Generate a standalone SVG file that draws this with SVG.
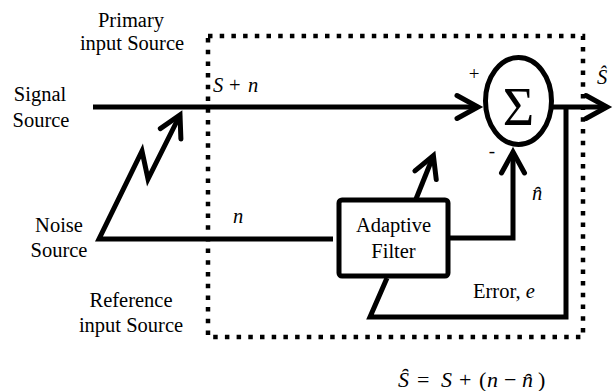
<svg xmlns="http://www.w3.org/2000/svg" width="613" height="391" viewBox="0 0 613 391">
<style>
  .t { font-family: "Liberation Serif", "Times New Roman", serif; font-size: 20.5px; fill: #000; }
  .m { font-family: "Liberation Serif", "Times New Roman", serif; font-style: italic; font-size: 20.5px; fill: #000; }
  .n { font-style: normal; }
  .w { fill: none; stroke: #000; stroke-width: 5; stroke-linejoin: miter; stroke-miterlimit: 4; }
  .arr { marker-end: url(#ah); }
  .dot { fill: none; stroke: #000; stroke-width: 4.5; stroke-dasharray: 4.5 7.2; }
</style>
<defs>
  <marker id="ah" markerUnits="userSpaceOnUse" markerWidth="40" markerHeight="40" viewBox="-30 -20 40 40" refX="0" refY="0" orient="auto" overflow="visible">
    <path d="M-21,-11.5 L0,0 L-21,11.5" fill="none" stroke="#000" stroke-width="5" stroke-linecap="round" stroke-linejoin="miter"/>
  </marker>
</defs>
<rect width="613" height="391" fill="#fff"/>

<g id="boundary">
  <path class="dot" d="M208,36 H583 V337 H208 Z"/>
</g>

<g id="connectors">
  <path class="w arr" d="M93,107 H478"/>
  <path class="w arr" d="M549,107 H607"/>
  <path class="w arr" d="M333,239 H99 L142,151 L148,179 L180,115"/>
  <path class="w arr" d="M416,199 L433.4,155.7"/>
  <path class="w arr" d="M448,238 H513 V152"/>
  <path class="w" d="M387,278 L370,317 H566 V105"/>
</g>

<g id="signal-source">
  <text class="t" x="40" y="101" text-anchor="middle">Signal</text>
  <text class="t" x="41" y="127" text-anchor="middle">Source</text>
</g>
<g id="noise-source">
  <text class="t" x="59" y="232" text-anchor="middle">Noise</text>
  <text class="t" x="59" y="257" text-anchor="middle">Source</text>
</g>
<g id="primary-label">
  <text class="t" x="131" y="27" text-anchor="middle">Primary</text>
  <text class="t" x="132" y="50" text-anchor="middle">input Source</text>
</g>
<g id="reference-label">
  <text class="t" x="131" y="307" text-anchor="middle">Reference</text>
  <text class="t" x="131" y="332" text-anchor="middle">input Source</text>
</g>

<g id="sum">
  <ellipse cx="518.5" cy="101" rx="33" ry="43.5" fill="#fff" stroke="#000" stroke-width="5"/>
  <text class="t" x="518.5" y="125" text-anchor="middle" style="font-size:54px">Σ</text>
  <text class="t" x="474" y="80" text-anchor="middle" style="font-size:19px">+</text>
  <text class="t" x="492" y="157" text-anchor="middle" style="font-size:19px">-</text>
</g>

<g id="adaptive-filter">
  <rect x="339" y="200" width="109" height="76" rx="3" fill="#fff" stroke="#000" stroke-width="5"/>
  <text class="t" x="393.5" y="232" text-anchor="middle">Adaptive</text>
  <text class="t" x="393.5" y="258" text-anchor="middle">Filter</text>
</g>

<g id="labels">
  <text class="m" x="213" y="92">S<tspan class="n" x="229">+</tspan><tspan x="248">n</tspan></text>
  <text class="m" x="233" y="223">n</text>
  <text class="m" x="597" y="84">Ŝ</text>
  <text class="m" x="532" y="200">n&#x311;</text>
  <text class="t" x="473" y="298">Error, <tspan class="m">e</tspan></text>
  <text class="m" x="398" y="387" style="font-size:22px">S&#x311;<tspan class="n" x="417">=</tspan><tspan x="441">S</tspan><tspan class="n" x="459">+</tspan><tspan class="n" x="479">(</tspan><tspan x="487">n</tspan><tspan class="n" x="504">−</tspan><tspan x="522">n&#x311;</tspan><tspan class="n" x="538">)</tspan></text>
</g>
</svg>
